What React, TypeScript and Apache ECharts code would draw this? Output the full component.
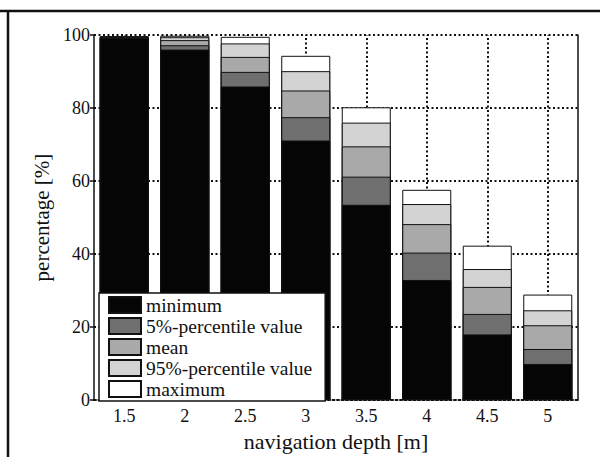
import React, { useEffect, useRef } from "react";
import * as echarts from "echarts";

// navigation depth classes [m]
const depths = ["1.5", "2", "2.5", "3", "3.5", "4", "4.5", "5"];

// percentage values per statistic [%]
const minimum = [99.2, 96.0, 85.9, 71.1, 53.5, 32.9, 18.0, 9.9];
const percentile5 = [99.4, 97.2, 89.9, 77.5, 61.2, 40.4, 23.6, 14.0];
const meanValues = [99.5, 98.6, 94.0, 84.8, 69.5, 48.2, 31.0, 20.5];
const percentile95 = [99.6, 99.4, 97.7, 90.1, 76.0, 53.7, 35.9, 24.6];
const maximum = [99.7, 99.8, 99.5, 94.3, 80.2, 57.6, 42.3, 28.9];

const yTicks = [0, 20, 40, 60, 80, 100];

const FONT = "Liberation Serif";
const dotted = { type: [2, 2.5] as number[], width: 2, color: "#111" };

export default function App() {
  const ref = useRef<HTMLDivElement>(null);

  useEffect(() => {
    if (!ref.current) return;
    const chart = echarts.init(ref.current, undefined, { renderer: "svg" });

    const bar = (name: string, data: number[], color: string) => ({
      name,
      type: "bar",
      data,
      barWidth: 49,
      barGap: "-100%",
      itemStyle: { color, borderColor: "#111", borderWidth: 1 },
      z: 3,
    });

    chart.setOption({
      animation: false,
      backgroundColor: "#fff",
      textStyle: { fontFamily: FONT, color: "#111" },
      grid: { left: 94, right: 22, top: 35, bottom: 51 },
      legend: {
        orient: "vertical",
        left: 99,
        top: 293,
        data: ["minimum", "5%-percentile value", "mean", "95%-percentile value", "maximum"],
        icon: "rect",
        itemWidth: 32,
        itemHeight: 16,
        itemGap: 1,
        itemTextGap: 9,
        padding: [2, 13, 2, 9],
        backgroundColor: "#fff",
        borderColor: "#111",
        borderWidth: 1.5,
        borderRadius: 0,
        z: 10,
        textStyle: { fontFamily: FONT, fontSize: 19.5, color: "#111" },
      },
      xAxis: {
        type: "category",
        data: depths,
        name: "navigation depth [m]",
        nameLocation: "middle",
        nameGap: 18,
        nameTextStyle: { fontFamily: FONT, fontSize: 22, color: "#111" },
        axisLine: { show: true, lineStyle: dotted },
        axisTick: { show: false },
        axisLabel: { fontFamily: FONT, fontSize: 18, color: "#111", margin: 7 },
        splitLine: { show: false },
        z: 1,
      },
      yAxis: [
        {
          type: "value",
          min: 0,
          max: 100,
          interval: 20,
          name: "percentage [%]",
          nameLocation: "middle",
          nameGap: 37,
          nameTextStyle: { fontFamily: FONT, fontSize: 21, color: "#111" },
          axisLine: { show: true, lineStyle: { color: "#111", width: 1.5 } },
          axisTick: { show: true, length: 4, lineStyle: { color: "#111", width: 1.5 } },
          axisLabel: {
            fontFamily: FONT,
            fontSize: 18,
            color: "#111",
            margin: 4,
            formatter: (v: number) => (yTicks.includes(v) ? String(v) : ""),
          },
          splitLine: { show: true, lineStyle: dotted },
          z: 1,
        },
        {
          type: "value",
          min: 0,
          max: 100,
          interval: 20,
          position: "right",
          axisLine: { show: true, lineStyle: { color: "#111", width: 1.5 } },
          axisTick: { show: false },
          axisLabel: { show: false },
          splitLine: { show: false },
        },
      ],
      series: [
        {
          ...bar("maximum", maximum, "#ffffff"),
          markLine: {
            silent: true,
            symbol: "none",
            z: 1,
            label: { show: false },
            lineStyle: dotted,
            data: depths.map((d) => ({ xAxis: d })),
          },
        },
        bar("95%-percentile value", percentile95, "#d3d3d3"),
        bar("mean", meanValues, "#a9a9a9"),
        bar("5%-percentile value", percentile5, "#6f6f6f"),
        bar("minimum", minimum, "#050505"),
      ],
      graphic: [
        { type: "line", shape: { x1: 0, y1: 11, x2: 600, y2: 11 }, style: { stroke: "#111", lineWidth: 2.5 } },
        { type: "line", shape: { x1: 8, y1: 11, x2: 8, y2: 457 }, style: { stroke: "#111", lineWidth: 2.5 } },
      ],
    });

    return () => chart.dispose();
  }, []);

  return <div ref={ref} style={{ width: 600, height: 457, position: "absolute", left: 0, top: 0 }} />;
}
